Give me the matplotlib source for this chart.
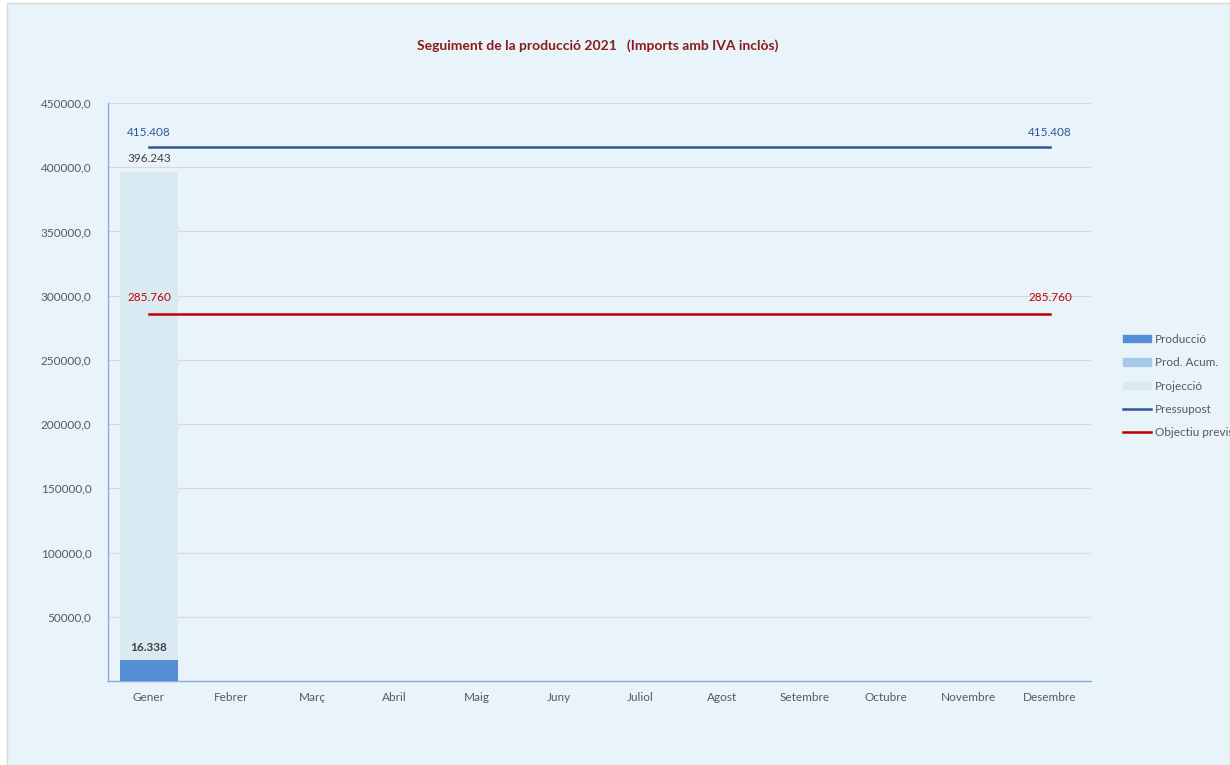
import matplotlib.pyplot as plt
import numpy as np
from matplotlib.patches import Rectangle, Patch
from matplotlib.lines import Line2D
from matplotlib.ticker import FuncFormatter

plt.rcParams['font.family'] = ['Lato', 'DejaVu Sans']

months = ["Gener", "Febrer", "Març", "Abril", "Maig", "Juny", "Juliol",
          "Agost", "Setembre", "Octubre", "Novembre", "Desembre"]
produccio = [16338] + [0] * 11
prod_acum = [16338] + [0] * 11
projeccio = [396243] + [0] * 11
pressupost = [415408] * 12
objectiu = [285760] * 12

bg = "#E8F4FA"
c_prod = "#558ED5"
c_acum = "#A6C8EA"
c_proj = "#DAEAF3"
c_press = "#2F5597"
c_obj = "#C00000"
txt_gray = "#595959"

fig = plt.figure(figsize=(12.3, 7.65), dpi=100)
fig.patch.set_facecolor("white")
fig.patches.append(Rectangle((7 / 1230, 0), 1 - 7 / 1230, 1 - 3 / 765, transform=fig.transFigure,
                             facecolor=bg, edgecolor="#D9D9D9", linewidth=1, zorder=-10))

ax = fig.add_axes([108 / 1230, 84 / 765, 983 / 1230, 578 / 765])
ax.set_facecolor(bg)

x = np.arange(len(months))
w = 0.71
ax.bar(x, projeccio, width=w, color=c_proj, zorder=2)
ax.bar(x, prod_acum, width=w, color=c_acum, zorder=3)
ax.bar(x, produccio, width=w, color=c_prod, zorder=4)
ax.plot(x, pressupost, color=c_press, linewidth=1.8, zorder=5)
ax.plot(x, objectiu, color=c_obj, linewidth=1.8, zorder=5)

# etiquetes de dades
def fmt(v):
    return f"{v:,}".replace(",", ".")

ax.annotate(fmt(projeccio[0]), (x[0], projeccio[0]), xytext=(0, 6),
            textcoords="offset points", ha="center", va="bottom", fontsize=8.5, color="#404040")
ax.annotate(fmt(produccio[0]), (x[0], produccio[0]), xytext=(0, 5),
            textcoords="offset points", ha="center", va="bottom", fontsize=8.5, color="#404040",
            fontweight="bold")
for i in (0, len(months) - 1):
    ax.annotate(fmt(pressupost[i]), (x[i], pressupost[i]), xytext=(0, 7),
                textcoords="offset points", ha="center", va="bottom", fontsize=8.5, color=c_press)
    ax.annotate(fmt(objectiu[i]), (x[i], objectiu[i]), xytext=(0, 8),
                textcoords="offset points", ha="center", va="bottom", fontsize=8.5, color=c_obj)

ax.set_xlim(-0.5, 11.5)
ax.set_ylim(0, 450000)
ax.set_xticks(x)
ax.set_xticklabels(months)
ax.set_yticks(np.arange(50000, 450001, 50000))
ax.yaxis.set_major_formatter(FuncFormatter(lambda v, p: f"{v:.1f}".replace(".", ",")))
ax.tick_params(axis="both", length=0, labelsize=8.5, labelcolor=txt_gray)
ax.tick_params(axis="x", pad=8)
ax.tick_params(axis="y", pad=12)
ax.grid(axis="y", color="#D9D9D9", linewidth=0.9, zorder=0)
ax.set_axisbelow(True)
for s in ("top", "right"):
    ax.spines[s].set_visible(False)
for s in ("left", "bottom"):
    ax.spines[s].set_color("#8EA9DB")
    ax.spines[s].set_linewidth(1)

fig.text(598 / 1230, 1 - 46 / 765, "Seguiment de la producció 2021   (Imports amb IVA inclòs)",
         ha="center", va="center", fontsize=10, fontweight="bold", color="#8B1A1A")

handles = [Patch(color=c_prod), Patch(color=c_acum), Patch(color=c_proj),
           Line2D([], [], color=c_press, linewidth=1.8), Line2D([], [], color=c_obj, linewidth=1.8)]
labels = ["Producció", "Prod. Acum.", "Projecció", "Pressupost", "Objectiu previst"]
leg = fig.legend(handles, labels, loc="upper left", bbox_to_anchor=(1118 / 1230, 1 - 329 / 765),
                 frameon=False, fontsize=8.5, handlelength=2.4, handleheight=0.6,
                 handletextpad=0.35, labelspacing=1.05, borderaxespad=0)
for t in leg.get_texts():
    t.set_color(txt_gray)

fig.savefig("out.png", dpi=100, facecolor=fig.get_facecolor())
